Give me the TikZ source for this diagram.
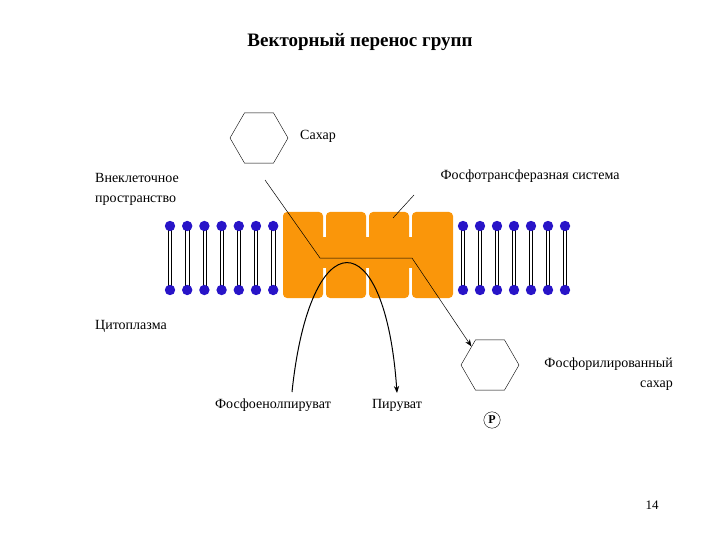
\documentclass[tikz,border=0pt]{standalone}
\usepackage{fontspec}
\setmainfont{Liberation Serif}
\usetikzlibrary{shapes.geometric,arrows.meta}
\definecolor{org}{RGB}{250,150,10}
\definecolor{head}{RGB}{40,20,200}
\tikzset{lbl/.style={font=\fontsize{14}{20}\selectfont,align=left,inner sep=1pt},
hexa/.style={regular polygon,regular polygon sides=6,draw,minimum size=#1,shape border rotate=0},
blk/.style={fill=org,rounded corners=4pt},
ln/.style={line width=0.5pt}}
\begin{document}
\begin{tikzpicture}[x=1pt,y=-1pt]
\useasboundingbox (0,0) rectangle (720,540);
\node[font=\bfseries\fontsize{19}{22}\selectfont] (title) at (360,42) {Векторный перенос групп};
% lipids
\foreach \x in {170,187.2,204.4,221.6,238.8,256,273.2,463,480,497,514,531,548,565}{
 \draw[line width=0.6pt] (\x-1.6,226)--(\x-1.6,290) (\x+1.6,226)--(\x+1.6,290);
 \fill[head] (\x,226) circle (5.2) (\x,290) circle (5.2);}
% protein
\foreach \a/\b in {283/323,326/366,369/409,412/453}{\fill[blk] (\a,212) rectangle (\b,298);}
\fill[org] (290,237) rectangle (446,268);
\node[hexa=58] (sug) at (259,138) {};
\node[lbl] (sl) at (318,136) {Сахар};
\node[lbl,anchor=west] (ext) at (94,189) {Внеклеточное\\пространство};
\node[lbl] (pts) at (530,176) {Фосфотрансферазная система};
\coordinate (pp) at (393,218);
\draw[ln] (pp)--(414,195);
\node[lbl,anchor=west] (cyt) at (94,326) {Цитоплазма};
\node[hexa=58] (psug) at (490,365) {};
\node[draw,circle,inner sep=2pt,font=\bfseries\fontsize{12}{14}\selectfont] (P) at (492,420) {P};
\node[lbl,align=right,anchor=east] (ps) at (674,374) {Фосфорилированный\\сахар};
\node[lbl] (pep) at (273,405) {Фосфоенолпируват};
\node[lbl] (pyr) at (397,405) {Пируват};
\node[font=\fontsize{13}{15}\selectfont] (pg) at (652,505) {14};
\coordinate (k1) at (320,258); \coordinate (k2) at (412,258);
\draw[ln,-{Stealth[length=7pt]}] (265,180)--(k1)--(k2)--(psug.north west);
\draw[line width=1pt,-{Stealth[length=7pt]}] (292,392) .. controls (310,220) and (385,220) .. (397,393);
\end{tikzpicture}
\end{document}
